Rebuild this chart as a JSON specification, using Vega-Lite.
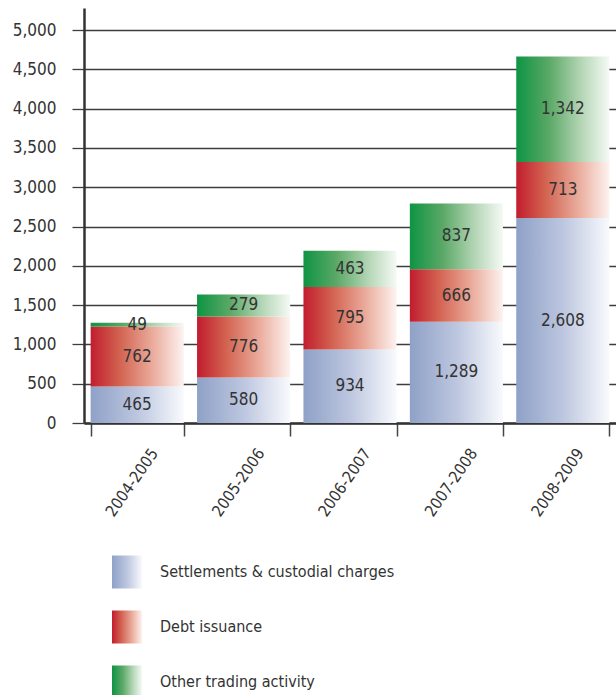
{
  "$schema": "https://vega.github.io/schema/vega-lite/v6.json",
  "autosize": "none",
  "width": 532,
  "height": 415,
  "padding": {"left": 84, "top": 8, "right": 0, "bottom": 272},
  "background": "white",
  "data": {
    "values": [
      {"period": "2004-2005", "series": "Settlements & custodial charges", "value": 465},
      {"period": "2004-2005", "series": "Debt issuance", "value": 762},
      {"period": "2004-2005", "series": "Other trading activity", "value": 49},
      {"period": "2005-2006", "series": "Settlements & custodial charges", "value": 580},
      {"period": "2005-2006", "series": "Debt issuance", "value": 776},
      {"period": "2005-2006", "series": "Other trading activity", "value": 279},
      {"period": "2006-2007", "series": "Settlements & custodial charges", "value": 934},
      {"period": "2006-2007", "series": "Debt issuance", "value": 795},
      {"period": "2006-2007", "series": "Other trading activity", "value": 463},
      {"period": "2007-2008", "series": "Settlements & custodial charges", "value": 1289},
      {"period": "2007-2008", "series": "Debt issuance", "value": 666},
      {"period": "2007-2008", "series": "Other trading activity", "value": 837},
      {"period": "2008-2009", "series": "Settlements & custodial charges", "value": 2608},
      {"period": "2008-2009", "series": "Debt issuance", "value": 713},
      {"period": "2008-2009", "series": "Other trading activity", "value": 1342}
    ]
  },
  "transform": [
    {"calculate": "indexof(['Settlements & custodial charges', 'Debt issuance', 'Other trading activity'], datum.series)", "as": "stackRank"}
  ],
  "encoding": {
    "x": {
      "field": "period",
      "type": "nominal",
      "scale": {"paddingInner": 0.125, "paddingOuter": 0.0625},
      "axis": {
        "title": null,
        "labelAngle": -55,
        "labelAlign": "right",
        "labelBaseline": "middle",
        "labelOffset": 17,
        "labelPadding": 14,
        "labelFontSize": 16,
        "tickBand": "extent",
        "tickSize": 13,
        "domainWidth": 2.5,
        "domainColor": "#333333",
        "tickColor": "#444444",
        "tickWidth": 1.5
      }
    },
    "y": {
      "field": "value",
      "type": "quantitative",
      "stack": "zero",
      "scale": {"domain": [0, 5280], "nice": false},
      "axis": {
        "title": null,
        "values": [0, 500, 1000, 1500, 2000, 2500, 3000, 3500, 4000, 4500, 5000],
        "format": ",.0f",
        "grid": true,
        "gridColor": "#3d3d3d",
        "gridWidth": 1.3,
        "tickSize": 12,
        "tickColor": "#3d3d3d",
        "tickWidth": 1.3,
        "labelPadding": 16,
        "labelFontSize": 17,
        "domainWidth": 2.5,
        "domainColor": "#333333"
      }
    },
    "order": {"field": "stackRank", "type": "quantitative", "sort": "ascending"}
  },
  "layer": [
    {
      "mark": {"type": "bar", "strokeWidth": 0},
      "encoding": {
        "fill": {
          "field": "series",
          "type": "nominal",
          "scale": {
            "domain": ["Settlements & custodial charges", "Debt issuance", "Other trading activity"],
            "range": [
              {"expr": "{gradient: 'linear', x1: 0, y1: 0, x2: 1, y2: 0, stops: [{offset: 0, color: '#8fa1c7'}, {offset: 0.5, color: '#bcc6df'}, {offset: 1, color: '#f9fafd'}]}"},
              {"expr": "{gradient: 'linear', x1: 0, y1: 0, x2: 1, y2: 0, stops: [{offset: 0, color: '#c11d2e'}, {offset: 0.3, color: '#d2604f'}, {offset: 0.65, color: '#e9a898'}, {offset: 1, color: '#fdf3f0'}]}"},
              {"expr": "{gradient: 'linear', x1: 0, y1: 0, x2: 1, y2: 0, stops: [{offset: 0, color: '#0e9444'}, {offset: 0.35, color: '#5aa866'}, {offset: 0.7, color: '#b5d6b6'}, {offset: 1, color: '#f5faf5'}]}"}
            ]
          },
          "legend": {
            "title": null,
            "orient": "none",
            "legendX": 28,
            "legendY": 549,
            "padding": 0,
            "symbolType": "M-1,-1.1H1V1.1H-1Z",
            "symbolSize": 900,
            "symbolStrokeWidth": 0,
            "labelOffset": 18,
            "labelFontSize": 16,
            "labelLimit": 400,
            "rowPadding": 21
          }
        }
      }
    },
    {
      "mark": {"type": "text", "baseline": "middle", "align": "center", "fontSize": 17, "color": "#333333"},
      "encoding": {
        "y": {"field": "value", "type": "quantitative", "stack": "zero", "bandPosition": 0.5},
        "detail": {"field": "series"},
        "text": {"field": "value", "type": "quantitative", "format": ","}
      }
    }
  ],
  "config": {
    "view": {"stroke": null},
    "font": "DejaVu Sans Condensed",
    "axis": {"labelFont": "DejaVu Sans Condensed", "labelColor": "#333333"},
    "legend": {"labelFont": "DejaVu Sans Condensed", "labelColor": "#333333"},
    "text": {"font": "DejaVu Sans Condensed"}
  }
}
